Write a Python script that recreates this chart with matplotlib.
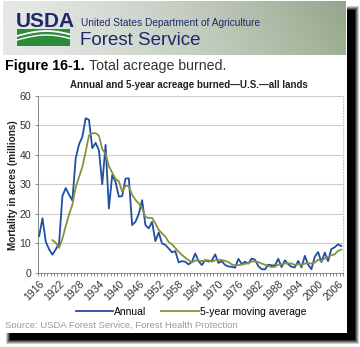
import numpy as np
import matplotlib
matplotlib.use("Agg")
import matplotlib.pyplot as plt
from matplotlib.patches import Rectangle

# ---------------- data ----------------
years = list(range(1916, 2008))
annual = [12.5, 18.5, 10.5, 8.0, 6.2, 8.0, 10.0, 26.0, 28.7, 26.5,
          24.5, 38.7, 43.5, 46.0, 52.3, 51.8, 42.2, 44.0, 41.5, 30.0,
          43.3, 21.8, 33.1, 30.8, 25.8, 26.0, 31.9, 32.0, 16.2, 17.3,
          20.0, 24.6, 16.2, 15.1, 17.3, 10.8, 13.7, 10.0, 9.5, 8.3,
          7.0, 7.4, 3.6, 4.0, 3.8, 2.9, 3.8, 6.6, 4.0, 2.7,
          4.3, 3.9, 4.2, 6.3, 3.4, 4.0, 2.7, 2.2, 2.1, 1.8,
          4.8, 3.0, 3.8, 3.2, 4.9, 4.5, 2.3, 1.3, 1.2, 2.8,
          2.6, 2.5, 4.8, 2.0, 4.3, 3.0, 2.1, 1.9, 4.1, 1.9,
          5.8, 2.8, 1.3, 5.5, 7.1, 3.7, 6.9, 4.0, 8.1, 8.7,
          9.7, 9.1]
ma_years = list(range(1920, 2008))
moving_avg = [11.1, 10.2, 8.5, 11.6, 15.8, 19.8, 23.1, 28.9, 32.4, 35.8,
              41.0, 46.5, 47.2, 47.3, 46.4, 41.9, 40.2, 36.1, 33.9, 31.8,
              31.0, 27.5, 29.5, 29.3, 26.4, 24.7, 23.5, 22.0, 18.9, 18.6,
              18.6, 16.8, 14.6, 13.4, 12.3, 10.5, 9.7, 8.4, 7.2, 6.1,
              5.2, 4.3, 3.6, 4.2, 4.2, 4.0, 4.3, 4.3, 3.8, 4.3,
              4.4, 4.4, 4.1, 3.7, 2.9, 2.6, 2.7, 2.8, 3.1, 3.3,
              3.9, 3.9, 3.7, 3.2, 2.8, 2.4, 2.0, 2.1, 2.8, 2.9,
              3.2, 3.3, 3.2, 2.7, 3.1, 2.6, 3.2, 3.3, 3.2, 3.5,
              4.5, 4.1, 4.9, 5.4, 6.0, 6.3, 7.5, 7.9]
tick_years = list(range(1916, 2008, 6))
y_ticks = [0, 10, 20, 30, 40, 50, 60]
series_labels = ["Annual", "5-year moving average"]

W, H = 360, 347
FONT = ["Liberation Sans", "DejaVu Sans"]
plt.rcParams["font.family"] = FONT

fig = plt.figure(figsize=(W / 100, H / 100), dpi=100)

# ---------------- background: drop shadow, page, banner ----------------
bg = fig.add_axes([0, 0, 1, 1])
bg.set_xlim(0, W)
bg.set_ylim(H, 0)
bg.axis("off")
yy, xx = np.mgrid[0:H, 0:W] + 0.5
d = np.minimum.reduce([xx - 8, 357 - xx, yy - 8, 342 - yy])
a = np.clip(0.5 + d / 5.0, 0, 1)
shadow = np.ones((H, W, 3)) * (1 - a[..., None])
bg.imshow(shadow, extent=(0, W, H, 0), aspect="auto", zorder=0)
bg.add_patch(Rectangle((0, 0), 347, 333, facecolor="white", edgecolor="none", zorder=1))

# banner gradient
gy, gx = np.mgrid[0:60, 0:400]
t = (gx / 399.0) ** 1.4
tv = gy / 59.0
left = np.array([0.90, 0.91, 0.90])
right = np.array([0.62, 0.69, 0.58])
grad = left[None, None, :] * (1 - t[..., None]) + right[None, None, :] * t[..., None]
grad = grad * (1 - 0.06 * (1 - tv[..., None]) * t[..., None])
bg.imshow(grad, extent=(3, 346, 55, 1), aspect="auto", zorder=2)

# USDA logo
navy = "#1c2a6b"
bg.text(16, 27, "USDA", color=navy, fontsize=15, fontweight="bold",
        family=["Liberation Sans Narrow", "Liberation Sans"], va="baseline", ha="left", zorder=3)
bg.add_patch(Rectangle((17, 29), 53, 17, facecolor="#2e8b3c", edgecolor="none", zorder=3))
cx = np.linspace(17, 70, 50)
for off, lw in [(0, 1.3), (4, 1.0)]:
    cy = 36 + off - 5 * np.sin((cx - 17) / 53 * np.pi * 0.9)
    bg.plot(cx, cy, color="white", lw=lw, zorder=4)
bg.text(81, 26, "United States Department of Agriculture", color=navy, fontsize=7.3,
        va="baseline", ha="left", zorder=3)
bg.text(80, 45, "Forest Service", color=navy, fontsize=13.5, va="baseline", ha="left", zorder=3)

# figure heading
bg.text(5, 70, "Figure 16-1.", fontsize=10.2, fontweight="bold", va="baseline", ha="left", zorder=3)
bg.text(89, 70, "Total acreage burned.", fontsize=10.2, color="#333333", va="baseline",
        ha="left", zorder=3)
bg.text(189, 88, "Annual and 5-year acreage burned\u2014U.S.\u2014all lands", fontsize=7,
        fontweight="bold", va="baseline", ha="center", zorder=3, color="#222222")
bg.text(13, 185, "Mortality in acres (millions)", fontsize=7.2, fontweight="bold",
        rotation=90, va="center", ha="center", zorder=3, color="#222222")
bg.text(5, 328, "Source: USDA Forest Service, Forest Health Protection", fontsize=6.8,
        color="#9a9a9a", va="baseline", ha="left", zorder=3)

# ---------------- chart ----------------
x0, x1, ytop, ybot = 37.5, 343, 95.5, 273
ax = fig.add_axes([x0 / W, 1 - ybot / H, (x1 - x0) / W, (ybot - ytop) / H])
ax.set_zorder(2)
ax.patch.set_facecolor("white")
blue = "#1f4fa0"
olive = "#8a9040"
ax.plot(years, annual, color=blue, lw=1.3, label=series_labels[0], zorder=3)
ax.plot(ma_years, moving_avg, color=olive, lw=1.3, label=series_labels[1], zorder=4)
ax.set_xlim(1915.5, 2007.5)
ax.set_ylim(0, 60)
ax.set_yticks(y_ticks)
ax.set_yticklabels([str(v) for v in y_ticks], fontsize=7.6, color="#333333")
ax.set_xticks(tick_years)
ax.set_xticklabels([str(v) for v in tick_years], fontsize=7.6, color="#333333",
                   rotation=45, ha="right", rotation_mode="anchor")
ax.set_xticks(np.arange(1915.5, 2008, 1), minor=True)
ax.tick_params(axis="x", which="major", length=0, pad=4)
ax.tick_params(axis="x", which="minor", length=2.5, width=0.6, color="#777777")
ax.tick_params(axis="y", length=2.5, width=0.6, color="#777777", pad=2)
ax.yaxis.grid(True, color="#cccccc", lw=0.8)
ax.set_axisbelow(True)
ax.spines["top"].set_visible(False)
ax.spines["right"].set_color("#cccccc")
ax.spines["right"].set_linestyle(":")
ax.spines["right"].set_linewidth(0.8)
ax.spines["left"].set_color("#888888")
ax.spines["bottom"].set_color("#888888")
ax.spines["left"].set_linewidth(0.7)
ax.spines["bottom"].set_linewidth(0.7)

leg = fig.legend(loc="center", bbox_to_anchor=(191 / W, 1 - 312 / H), ncol=2, frameon=False,
                 fontsize=7.5, handlelength=3.6, handletextpad=0.1, columnspacing=1.4)

fig.savefig("out.png", dpi=100)
